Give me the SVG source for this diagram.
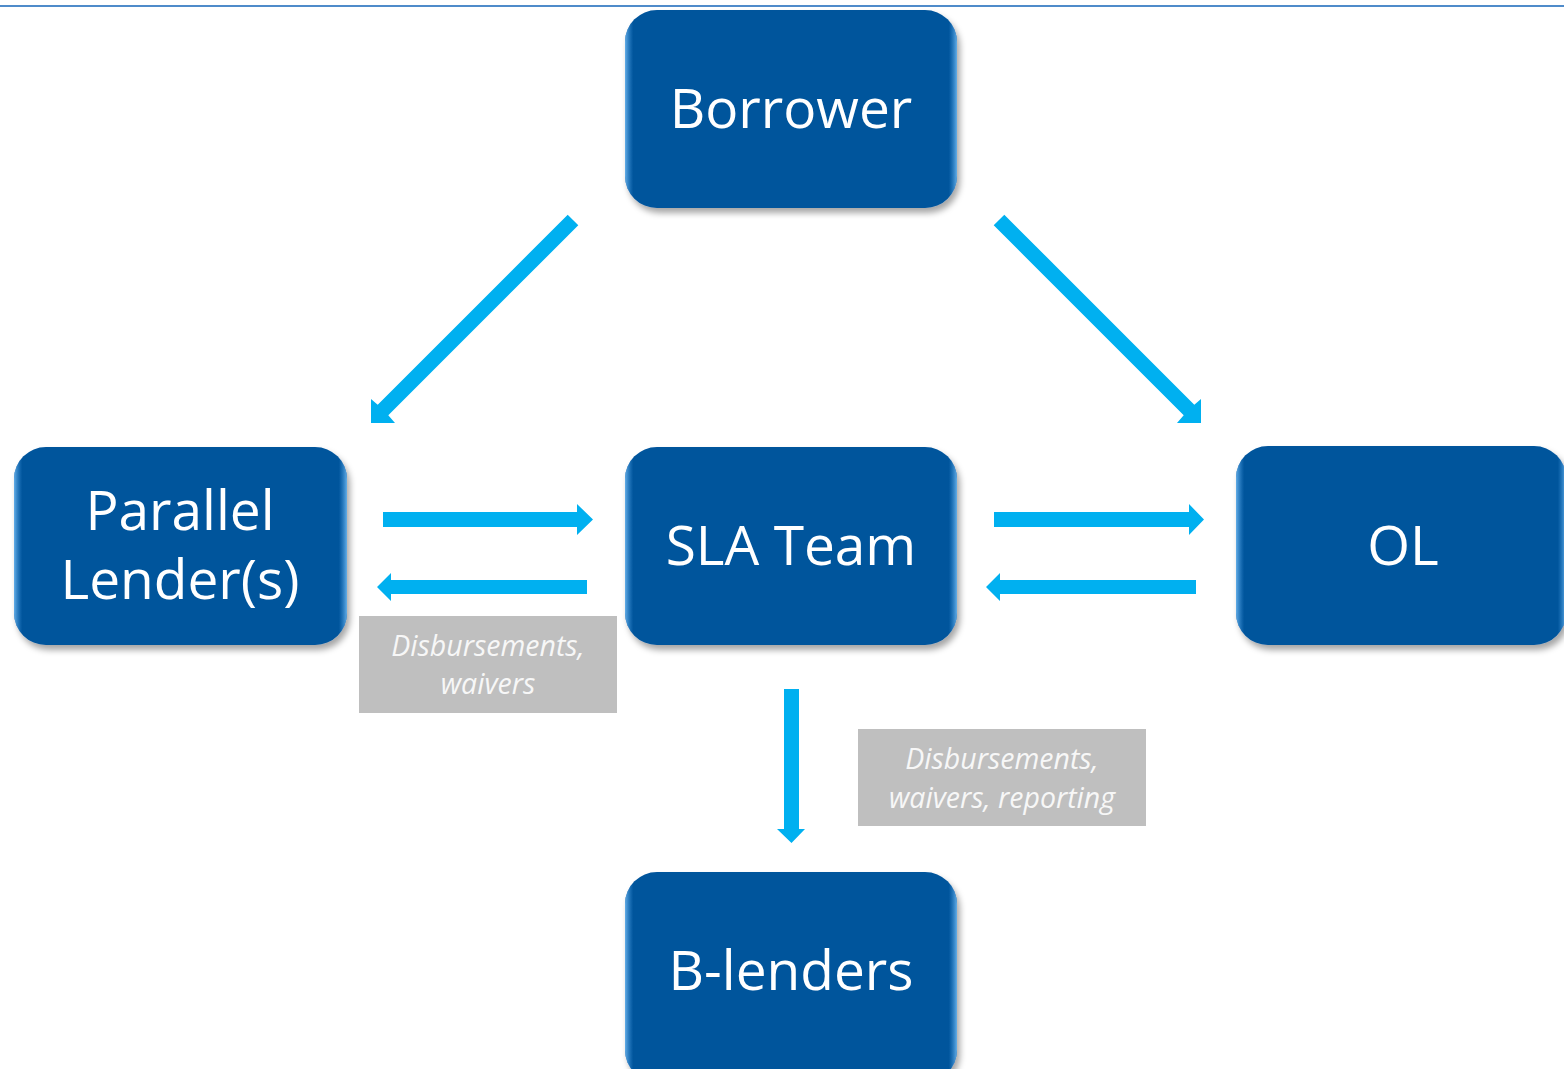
<svg xmlns="http://www.w3.org/2000/svg" width="1564" height="1069" viewBox="0 0 1564 1069">
<defs>
<style>
.node rect.b{fill:#02549c;filter:url(#sh)}
.node rect.g{fill:url(#edge)}
.node text{font-family:"Open Sans","Liberation Sans",sans-serif;font-size:55px;fill:#ffffff;text-anchor:middle}
.lab rect{fill:#bfbfbf}
.lab text{font-family:"Open Sans","Liberation Sans",sans-serif;font-style:italic;font-size:28.5px;fill:#f7f7f7;text-anchor:middle}
.arr{fill:#00b0f0}
</style>
<filter id="sh" x="-10%" y="-10%" width="125%" height="130%">
<feDropShadow dx="3" dy="5" stdDeviation="3" flood-color="#000" flood-opacity="0.35"/>
</filter>
<linearGradient id="edge" x1="0" y1="0" x2="1" y2="0">
<stop offset="0" stop-color="#6fb8f0" stop-opacity="0.9"/>
<stop offset="0.025" stop-color="#3a8fd8" stop-opacity="0"/>
<stop offset="0.975" stop-color="#3a8fd8" stop-opacity="0"/>
<stop offset="1" stop-color="#6fb8f0" stop-opacity="0.9"/>
</linearGradient>
</defs>
<rect width="1564" height="1069" fill="#ffffff"/>
<line x1="0" y1="6" x2="1564" y2="6" stroke="#1565b8" stroke-width="1.5"/>

<g id="connectors">
<polygon class="arr" points="578.3,225.3 567.7,214.7 377.7,404.7 371,399 371,423 395,423 388.3,415.3"/>
<polygon class="arr" points="993.7,225.3 1004.3,214.7 1194.3,404.7 1201,399 1201,423 1177,423 1183.7,415.3"/>
<polygon class="arr" points="383,512 577,512 577,504 593,519.5 577,535 577,527 383,527"/>
<polygon class="arr" points="587,580 391,580 391,573 377,587 391,601 391,594 587,594"/>
<polygon class="arr" points="994,512 1189,512 1189,504 1204,519.5 1189,535 1189,527 994,527"/>
<polygon class="arr" points="1196,580 1000,580 1000,573 986,587 1000,601 1000,594 1196,594"/>
<polygon class="arr" points="784,689 799,689 799,829 805,829 791.5,843 777,829 784,829"/>
</g>

<g id="node-borrower" class="node">
<rect class="b" x="625" y="10" width="332" height="198" rx="32"/>
<rect class="g" x="625" y="10" width="332" height="198" rx="32"/>
<text x="791" y="128">Borrower</text>
</g>
<g id="node-parallel" class="node">
<rect class="b" x="14" y="447" width="333" height="198" rx="32"/>
<rect class="g" x="14" y="447" width="333" height="198" rx="32"/>
<text x="180" y="530">Parallel</text>
<text x="180" y="599">Lender(s)</text>
</g>
<g id="node-sla" class="node">
<rect class="b" x="625" y="447" width="332" height="198" rx="32"/>
<rect class="g" x="625" y="447" width="332" height="198" rx="32"/>
<text x="791" y="565">SLA Team</text>
</g>
<g id="node-ol" class="node">
<rect class="b" x="1236" y="446" width="330" height="199" rx="32"/>
<rect class="g" x="1236" y="446" width="330" height="199" rx="32"/>
<text x="1403" y="565">OL</text>
</g>
<g id="node-blenders" class="node">
<rect class="b" x="625" y="872" width="332" height="210" rx="32"/>
<rect class="g" x="625" y="872" width="332" height="210" rx="32"/>
<text x="791" y="990">B-lenders</text>
</g>

<g id="label-1" class="lab">
<rect x="359" y="616" width="258" height="97"/>
<text x="488" y="656">Disbursements,</text>
<text x="488" y="694">waivers</text>
</g>
<g id="label-2" class="lab">
<rect x="858" y="729" width="288" height="97"/>
<text x="1002" y="769">Disbursements,</text>
<text x="1002" y="808">waivers, reporting</text>
</g>
</svg>
